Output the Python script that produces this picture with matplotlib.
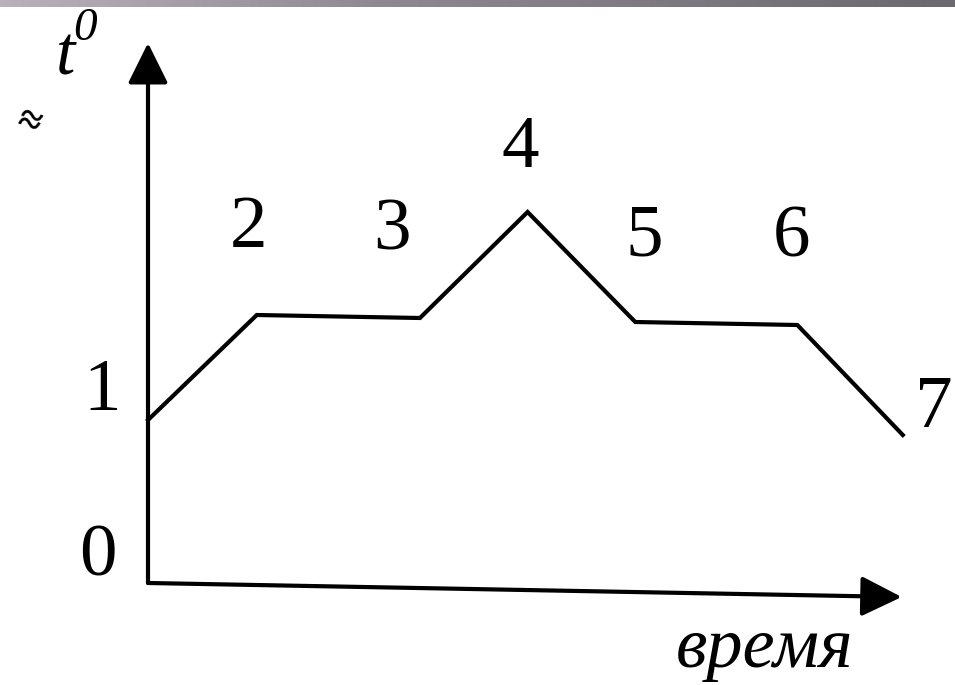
import numpy as np
import matplotlib.pyplot as plt
from matplotlib.colors import LinearSegmentedColormap

plt.rcParams['font.family'] = ['Liberation Serif', 'DejaVu Serif']

# данные: время и температура в точках 1..7
vremya = [0.0, 0.98, 2.45, 3.42, 4.39, 5.85, 6.80]
temp = [1.63, 2.68, 2.65, 3.71, 2.61, 2.58, 1.48]
metki = ['1', '2', '3', '4', '5', '6', '7']
# смещение подписей от точек (пиксели)
sdvig = [(-46, 10), (-8, 68), (-28, 68), (-7, 45), (9, 67), (-6, 68), (31, 8)]

fig = plt.figure(figsize=(9.55, 6.85), dpi=100)
fig.patch.set_facecolor('white')

# полоса сверху
bar = fig.add_axes([0, 1 - 7 / 685, 1, 7 / 685])
cmap = LinearSegmentedColormap.from_list('bar', [(0, '#bab0bc'), (0.4, '#8f8893'), (1, '#6d6870')])
bar.imshow(np.linspace(0, 1, 256)[None, :], aspect='auto', cmap=cmap)
bar.axis('off')

ax = fig.add_axes([0, 0, 1, 1 - 7 / 685])
ax.set_xlim(-148 / 111, 807 / 111)
ax.set_ylim((583 - 685) / 100, (583 - 7) / 100)
ax.axis('off')

# оси со стрелками
arr = dict(arrowstyle='-|>,head_length=1.25,head_width=0.62', lw=3, color='black',
           mutation_scale=20, shrinkA=0, shrinkB=0)
ax.annotate('', xy=(0, 5.40), xytext=(0, 0), arrowprops=arr)
ax.annotate('', xy=(6.79, -0.14), xytext=(0, 0), arrowprops=arr)

ax.plot(vremya, temp, color='black', lw=3, solid_joinstyle='miter')

for x, y, s, (dx, dy) in zip(vremya, temp, metki, sdvig):
    ax.annotate(s, (x, y), xytext=(dx * 0.72, dy * 0.72), textcoords='offset points',
                ha='center', va='baseline', fontsize=54)

ax.text(-50 / 111, (583 - 575) / 100, '0', ha='center', va='baseline', fontsize=54)
ax.text((66 - 148) / 111, (583 - 75) / 100, 't', ha='center', va='baseline',
        fontsize=50, style='italic')
ax.text((85 - 148) / 111, (583 - 40) / 100, '0', ha='center', va='baseline',
        fontsize=34, style='italic')
ax.text((765 - 148) / 111, (583 - 667) / 100, 'время', ha='center', va='baseline',
        fontsize=52, style='italic')
ax.text((28 - 148) / 111, (583 - 123) / 100, '≈', ha='center', va='center',
        fontsize=30, fontweight='bold', rotation=-20)

plt.savefig('out.png', dpi=100)
